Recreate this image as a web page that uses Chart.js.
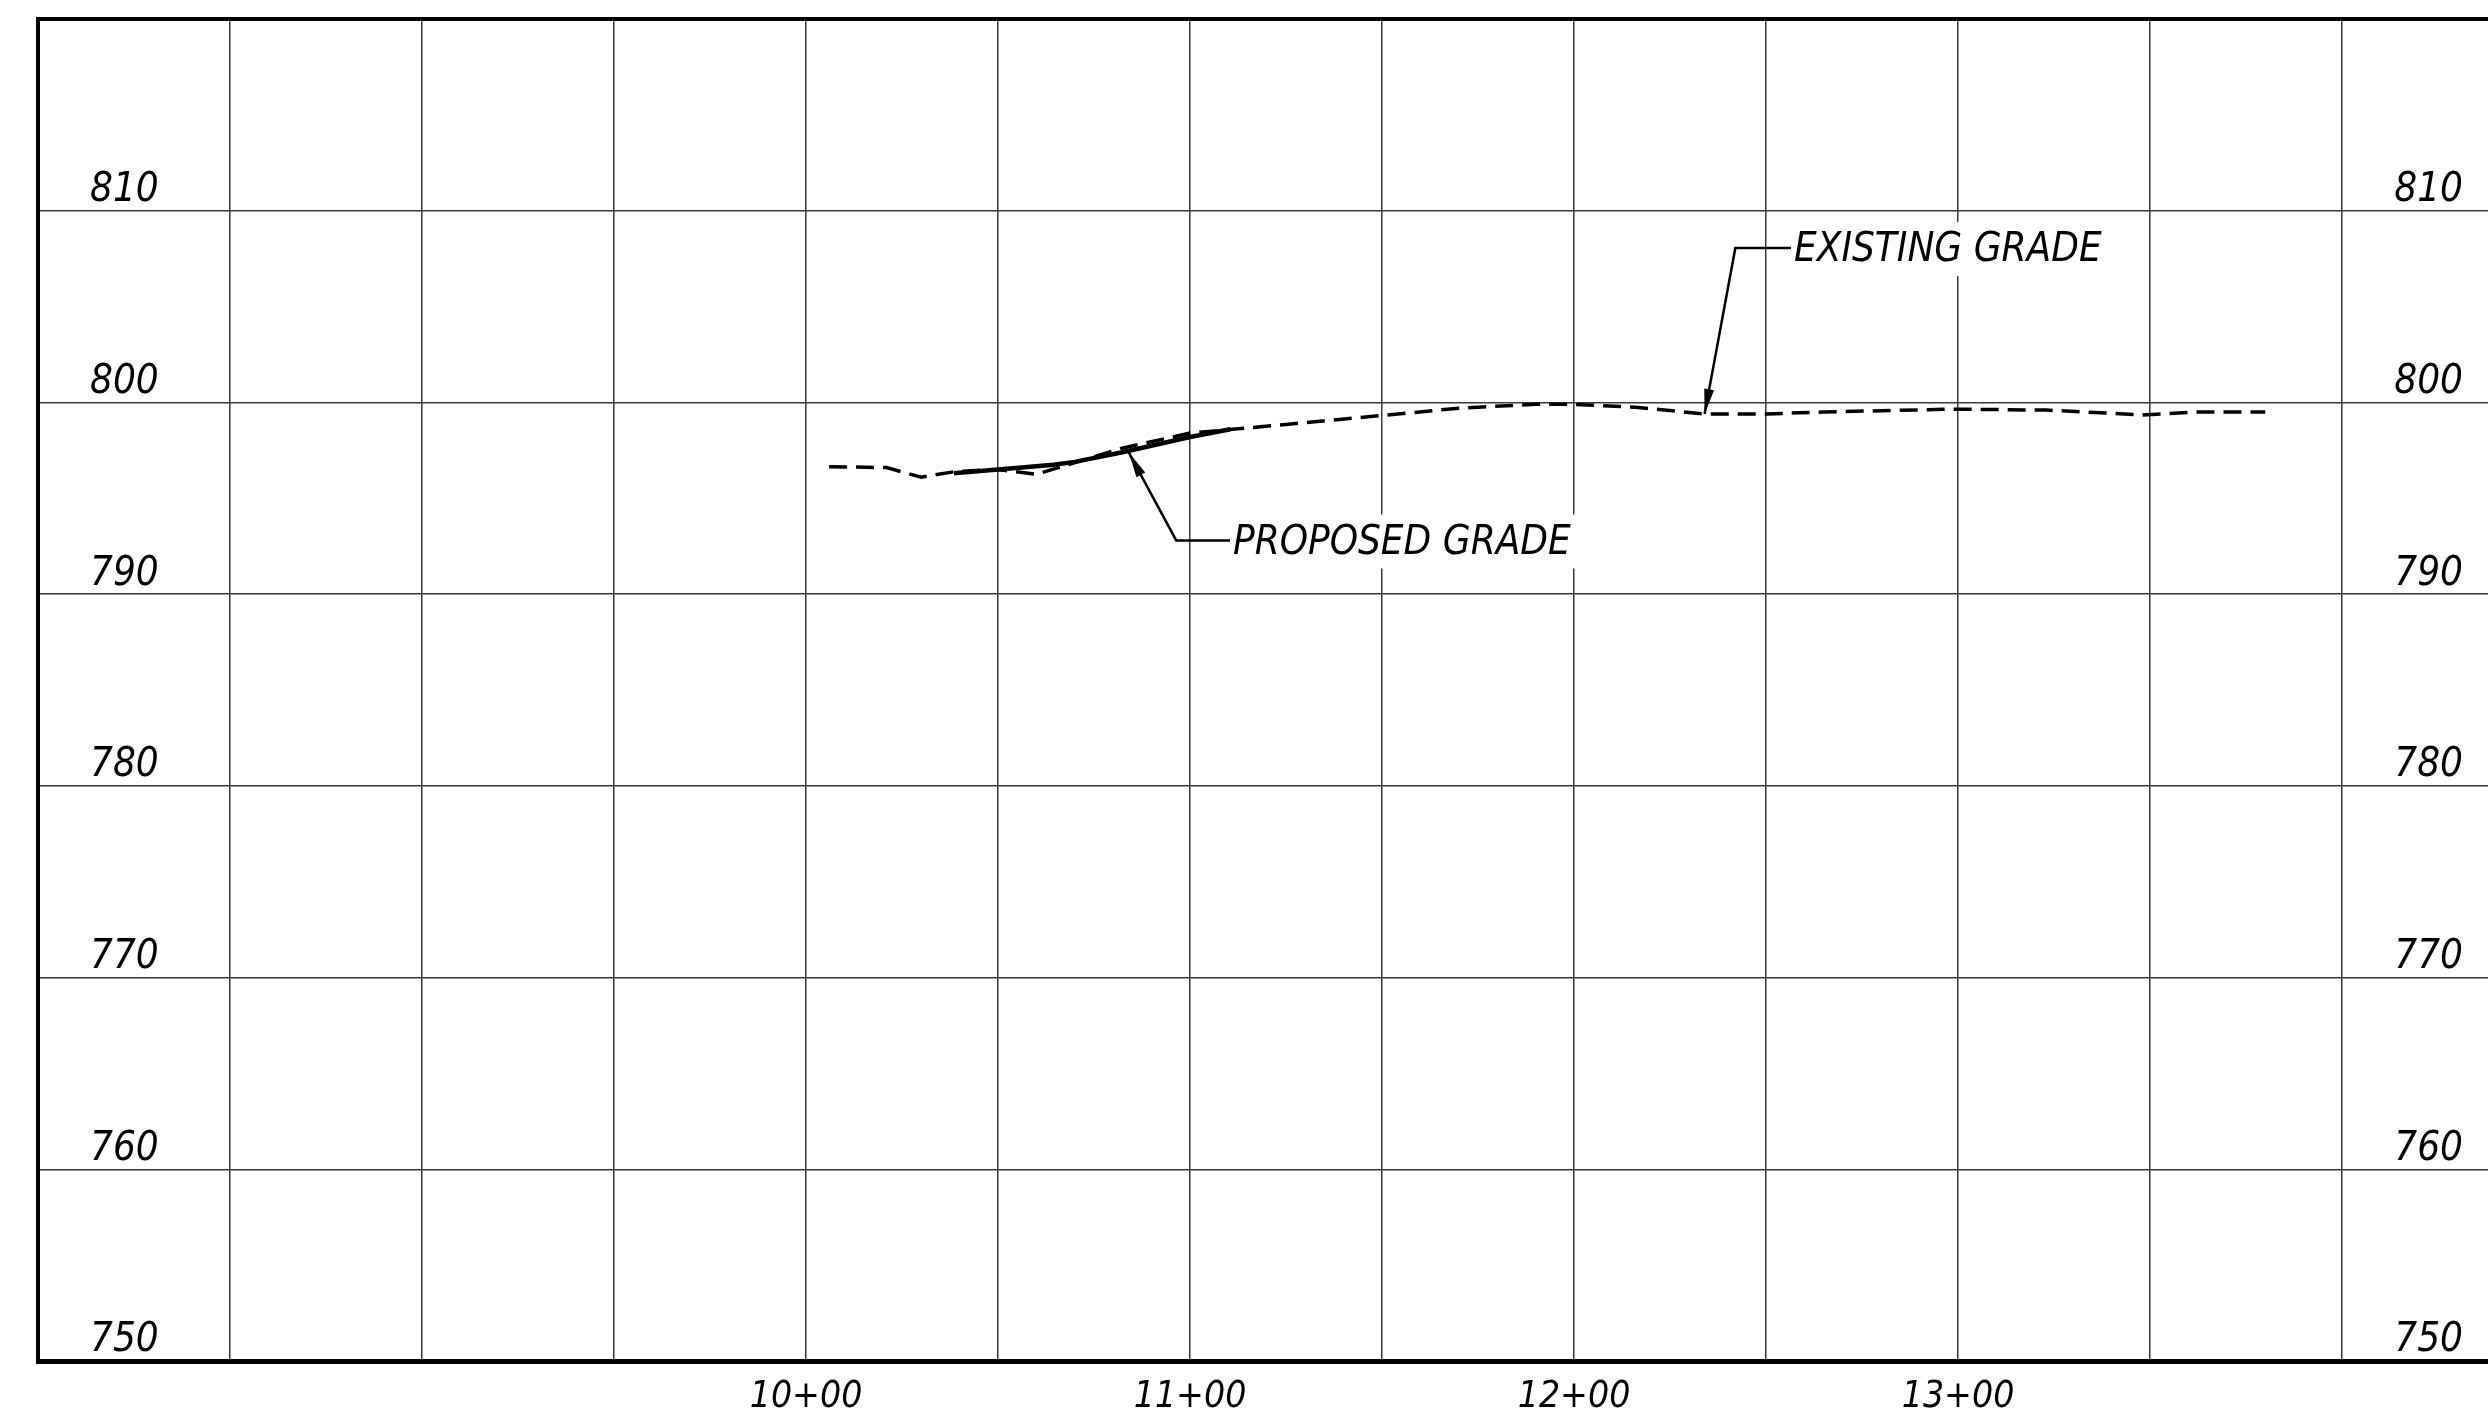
<!DOCTYPE html>
<html>
<head>
<meta charset="utf-8">
<script src="https://cdn.jsdelivr.net/npm/chart.js@4.4.1/dist/chart.umd.min.js"></script>
<style>
  html, body { margin: 0; padding: 0; background: #fff; overflow: hidden; }
  #wrap { position: relative; width: 2488px; height: 1415px; }
</style>
</head>
<body>
<div id="wrap"><canvas id="chart" width="2488" height="1415"></canvas></div>
<script>
// stations (ft) and elevations
const existingStations = [1006, 1021, 1030, 1039, 1050, 1060, 1069, 1082, 1100, 1111, 1125, 1149, 1170, 1190, 1200, 1216, 1234, 1250, 1265, 1298, 1323, 1348, 1362, 1380];
const existingElev = [796.65, 796.6, 796.1, 796.4, 796.5, 796.25, 796.8, 797.6, 798.4, 798.6, 798.85, 799.3, 799.7, 799.9, 799.9, 799.75, 799.4, 799.4, 799.5, 799.65, 799.6, 799.35, 799.5, 799.5];

const proposedStations = [1038.5, 1064.5, 1070, 1082.4, 1100, 1110.5];
const proposedElev = [796.3, 796.75, 796.9, 797.4, 798.2, 798.6];

const stationLabels = [1000, 1100, 1200, 1300];
const elevationTicks = [750, 760, 770, 780, 790, 800, 810];

// leader callouts: [tip station, tip elev, elbow station, elbow elev, end station]
const existingCallout = [1234, 799.4, 1242, 808.05, 1256.5];
const proposedCallout = [1084.1, 797.37, 1096.4, 792.8, 1110.4];
const calloutText = ["EXISTING GRADE", "PROPOSED GRADE"];

const cadFont = "'DejaVu Sans Condensed', 'DejaVu Sans', sans-serif";

function stationText(v) {
  const hundreds = Math.floor(v / 100);
  const rest = String(v % 100).padStart(2, "0");
  return hundreds + "+" + rest;
}

// keep tick label overhang from shrinking the plot area
function fixSize(prop, size) {
  return s => {
    s[prop] = size;
    s.paddingTop = 0;
    s.paddingBottom = 0;
    s.paddingLeft = 0;
    s.paddingRight = 0;
  };
}

const calloutPlugin = {
  id: "callouts",
  afterDraw(chart) {
    const ctx = chart.ctx;
    const xs = chart.scales.x;
    const ys = chart.scales.y;
    const list = [existingCallout, proposedCallout];

    ctx.save();
    ctx.font = "italic 40px " + cadFont;
    ctx.textBaseline = "middle";
    ctx.textAlign = "left";

    list.forEach((c, i) => {
      const tipX = xs.getPixelForValue(c[0]);
      const tipY = ys.getPixelForValue(c[1]);
      const elX = xs.getPixelForValue(c[2]);
      const elY = ys.getPixelForValue(c[3]);
      const endX = xs.getPixelForValue(c[4]);

      const text = calloutText[i];
      const w = ctx.measureText(text).width;
      // white box under the text so grid lines break
      ctx.fillStyle = "#fff";
      ctx.fillRect(endX + 2, elY - 26, w + 8, 54);

      ctx.strokeStyle = "#000";
      ctx.lineWidth = 2.5;
      ctx.beginPath();
      ctx.moveTo(endX, elY);
      ctx.lineTo(elX, elY);
      ctx.lineTo(tipX, tipY);
      ctx.stroke();

      // arrow head
      const ang = Math.atan2(tipY - elY, tipX - elX);
      const len = 25;
      const half = 5;
      const bx = tipX - Math.cos(ang) * len;
      const by = tipY - Math.sin(ang) * len;
      ctx.fillStyle = "#000";
      ctx.beginPath();
      ctx.moveTo(tipX, tipY);
      ctx.lineTo(bx + Math.sin(ang) * half, by - Math.cos(ang) * half);
      ctx.lineTo(bx - Math.sin(ang) * half, by + Math.cos(ang) * half);
      ctx.closePath();
      ctx.fill();

      ctx.fillStyle = "#000";
      ctx.fillText(text, endX + 3, elY + 3);
    });
    ctx.restore();
  }
};

const ctx = document.getElementById("chart").getContext("2d");
new Chart(ctx, {
  type: "line",
  data: {
    datasets: [
      {
        label: "Existing grade",
        data: existingStations.map((s, i) => ({ x: s, y: existingElev[i] })),
        borderColor: "#000",
        borderWidth: 3.5,
        borderDash: [18, 9],
        pointRadius: 0,
        fill: false,
        tension: 0
      },
      {
        label: "Proposed grade",
        data: proposedStations.map((s, i) => ({ x: s, y: proposedElev[i] })),
        borderColor: "#000",
        borderWidth: 4.5,
        pointRadius: 0,
        fill: false,
        tension: 0
      }
    ]
  },
  options: {
    responsive: false,
    animation: false,
    devicePixelRatio: 1,
    layout: { padding: 0 },
    plugins: {
      legend: { display: false },
      tooltip: { enabled: false }
    },
    scales: {
      x: {
        type: "linear",
        position: "bottom",
        min: 800,
        max: 1438,
        grid: { color: "#3a3a3a", lineWidth: 1.5, drawTicks: false },
        border: { color: "#000", width: 5 },
        ticks: {
          stepSize: 50,
          includeBounds: false,
          autoSkip: false,
          maxRotation: 0,
          padding: 14,
          color: "#000",
          font: { family: cadFont, size: 37, style: "italic" },
          callback: v => stationLabels.includes(v) ? stationText(v) : ""
        },
        afterFit: fixSize("height", 54)
      },
      xTop: {
        type: "linear",
        position: "top",
        min: 0,
        max: 1,
        grid: { display: false, drawTicks: false },
        border: { color: "#000", width: 4 },
        ticks: { display: false },
        afterFit: fixSize("height", 19)
      },
      y: {
        type: "linear",
        position: "left",
        min: 750,
        max: 820,
        grid: { color: "#3a3a3a", lineWidth: 1.5, drawTicks: false },
        border: { color: "#000", width: 4 },
        ticks: {
          stepSize: 10,
          mirror: true,
          padding: 52,
          labelOffset: -20,
          color: "#000",
          font: { family: cadFont, size: 40, style: "italic" },
          callback: v => elevationTicks.includes(v) ? String(v) : ""
        },
        afterFit: fixSize("width", 38)
      },
      yRight: {
        type: "linear",
        position: "right",
        min: 750,
        max: 820,
        grid: { display: false, drawTicks: false },
        border: { display: false },
        ticks: {
          stepSize: 10,
          mirror: true,
          padding: -25,
          labelOffset: -20,
          color: "#000",
          font: { family: cadFont, size: 40, style: "italic" },
          callback: v => elevationTicks.includes(v) ? String(v) : ""
        },
        afterFit: fixSize("width", 0)
      }
    }
  },
  plugins: [calloutPlugin]
});
</script>
</body>
</html>
